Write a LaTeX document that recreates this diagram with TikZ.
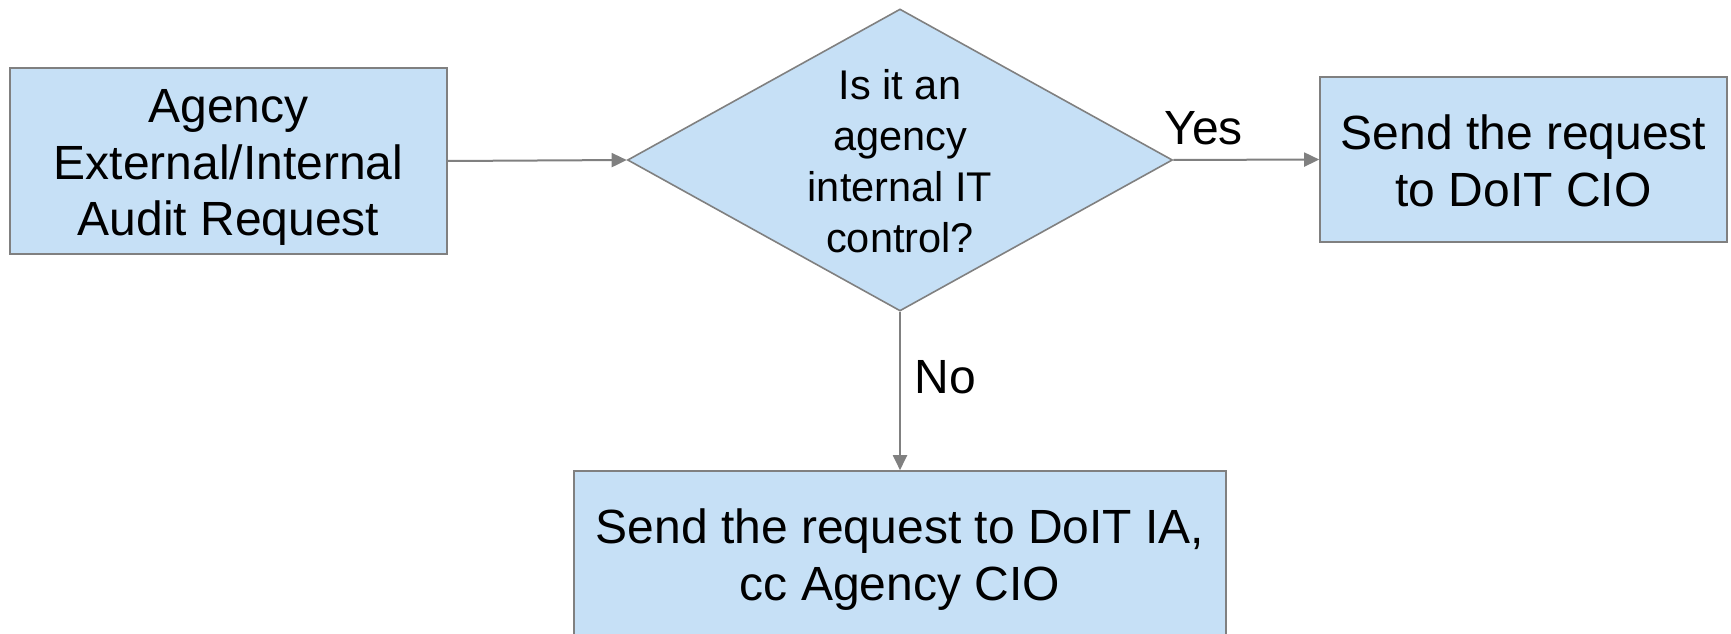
\documentclass[tikz,border=0pt]{standalone}
\usepackage{fontspec}
\setmainfont{Liberation Sans}
\usetikzlibrary{shapes.geometric,arrows.meta}
\definecolor{boxfill}{RGB}{198,224,246}
\definecolor{edgegray}{RGB}{128,128,128}
% struts that balance the first and last lines of a centred block
\newcommand\firstline{\rule{0pt}{1.02em}}
\newcommand\lastline{\rule[-0.25em]{0pt}{0.25em}}

\begin{document}
\begin{tikzpicture}[x=1pt,y=-1pt,
  procbox/.style={rectangle, draw=edgegray, line width=1.6pt, fill=boxfill,
    inner sep=0pt, align=center, font=\fontsize{48}{56.5}\selectfont},
  decision/.style={diamond, draw=edgegray, line width=1.6pt, fill=boxfill,
    inner sep=0pt, minimum width=545pt, minimum height=302pt},
  decisiontext/.style={inner sep=0pt, align=center,
    font=\fontsize{41.5}{50.7}\selectfont},
  lbl/.style={inner sep=0pt, anchor=base, font=\fontsize{48}{56.5}\selectfont},
  conn/.style={draw=edgegray, line width=2pt, -{Triangle[length=15pt,width=14pt]}}
]
\useasboundingbox (0,0) rectangle (1731,634);
\clip (0,0) rectangle (1731,634);

% process boxes
\node[procbox, minimum width=437pt, minimum height=186pt] (req) at (228.5,161)
  {\firstline Agency\\External/Internal\\Audit Request\lastline};
\node[procbox, minimum width=407pt, minimum height=165pt] (cio) at (1523.5,159.5)
  {\firstline Send the request\\to DoIT CIO\lastline};
\node[procbox, minimum width=652pt, minimum height=165pt] (ia) at (900,553.5)
  {\firstline Send the request to DoIT IA,\\cc Agency CIO\lastline};

% decision
\node[decision] (q) at (900,160) {};
\node[decisiontext] (qt) at (q.center)
  {\firstline Is it an\\agency\\internal IT\\control?\lastline};

% connectors
\draw[conn] (req.east) -- (q.west);
\draw[conn] (q.east) -- (cio.west);
\draw[conn] (q.south) -- (ia.north);

% branch labels
\node[lbl] (yes) at (1203.5,144) {Yes};
\node[lbl] (no) at (945.5,393) {No};
\end{tikzpicture}
\end{document}
